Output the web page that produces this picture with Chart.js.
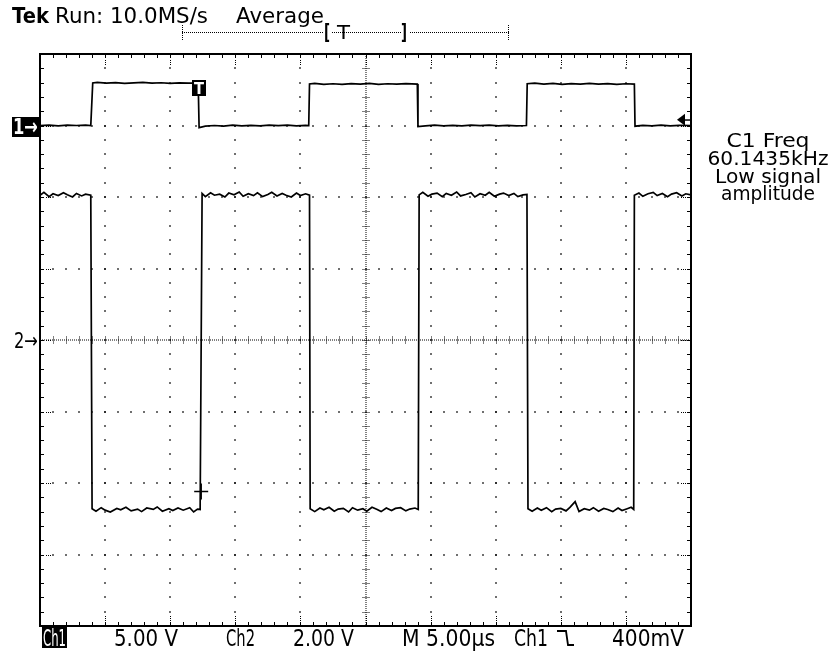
<!DOCTYPE html>
<html>
<head>
<meta charset="utf-8">
<script src="https://cdn.jsdelivr.net/npm/chart.js@4.4.1/dist/chart.umd.min.js"></script>
<style>
html,body{margin:0;padding:0;background:#fff;}
canvas{display:block;}
</style>
</head>
<body>
<canvas id="c" width="834" height="654"></canvas>
<script>
// ---- Data (time in µs, values in volts) ----
const ch1Time = [-25.0,-24.3,-23.6,-22.9,-22.2,-21.5,-21.1,-20.95,-20.6,-19.9,-19.2,-18.5,-17.8,-17.1,-16.4,-15.7,-15.0,-14.3,-13.6,-12.85,-12.78,-12.3,-11.6,-10.9,-10.2,-9.5,-8.8,-8.1,-7.4,-6.7,-6.0,-5.3,-4.6,-4.36,-4.3,-3.9,-3.2,-2.5,-1.8,-1.1,-0.4,0.3,1.0,1.7,2.4,3.1,3.98,4.03,4.6,5.3,6.0,6.7,7.4,8.1,8.8,9.5,10.2,10.9,11.6,12.36,12.42,13.0,13.7,14.4,15.1,15.8,16.5,17.2,17.9,18.6,19.3,20.0,20.65,20.7,21.3,22.0,22.7,23.4,24.1,25.0];
const ch1Volts = [0.00,0.03,-0.02,0.02,0.00,0.03,0.00,2.98,3.02,2.97,3.00,2.95,2.98,3.01,2.96,2.99,2.94,2.98,2.96,2.97,-0.15,-0.05,0.00,-0.04,0.02,-0.03,0.01,-0.02,0.02,-0.01,0.02,-0.02,0.01,0.00,2.90,2.95,2.88,2.92,2.87,2.93,2.89,2.94,2.88,2.92,2.89,2.93,2.90,-0.08,-0.02,0.02,-0.03,0.01,-0.02,0.02,-0.01,0.03,-0.02,0.01,-0.03,0.00,2.92,2.96,2.89,2.94,2.88,2.93,2.90,2.95,2.89,2.93,2.88,2.92,2.90,-0.05,0.01,-0.03,0.02,-0.02,0.01,0.00];

const ch2Time = [-25.0,-24.7,-24.3,-24.0,-23.6,-23.2,-22.9,-22.5,-22.2,-21.8,-21.5,-21.1,-21.0,-20.7,-20.3,-20.0,-19.6,-19.1,-18.8,-18.4,-18.0,-17.5,-17.2,-16.8,-16.3,-16.0,-15.6,-15.1,-14.8,-14.4,-14.0,-13.5,-13.2,-12.9,-12.7,-12.55,-12.3,-11.9,-11.6,-11.2,-10.8,-10.5,-10.1,-9.7,-9.4,-9.0,-8.6,-8.3,-7.9,-7.5,-7.2,-6.8,-6.4,-6.1,-5.7,-5.3,-5.0,-4.6,-4.3,-4.25,-3.9,-3.5,-3.2,-2.8,-2.4,-2.1,-1.7,-1.3,-1.0,-0.6,-0.2,0.1,0.5,0.9,1.2,1.6,2.0,2.3,2.7,3.1,3.4,3.8,4.05,4.12,4.4,4.8,5.1,5.5,5.9,6.2,6.6,7.0,7.3,7.7,8.1,8.4,8.8,9.2,9.5,9.9,10.3,10.6,11.0,11.4,11.7,12.1,12.4,12.48,12.8,13.2,13.5,13.9,14.3,14.6,15.0,15.4,15.7,16.1,16.4,16.8,17.2,17.5,17.9,18.3,18.6,19.0,19.4,19.7,20.1,20.4,20.6,20.65,21.0,21.3,21.7,22.1,22.4,22.8,23.2,23.5,23.9,24.3,24.6,25.0];
const ch2Volts = [4.05,4.13,4.01,4.09,4.04,4.12,4.06,4.00,4.10,4.03,4.08,4.05,-4.72,-4.79,-4.69,-4.76,-4.81,-4.71,-4.75,-4.68,-4.78,-4.73,-4.80,-4.70,-4.74,-4.67,-4.79,-4.72,-4.77,-4.70,-4.76,-4.69,-4.81,-4.73,-4.74,4.10,4.01,4.12,4.05,4.08,4.00,4.11,4.06,4.14,4.02,4.09,4.04,4.12,4.01,4.07,4.13,4.03,4.10,4.05,4.00,4.11,4.04,4.09,4.05,-4.72,-4.80,-4.70,-4.75,-4.68,-4.79,-4.73,-4.71,-4.81,-4.69,-4.76,-4.72,-4.79,-4.68,-4.74,-4.80,-4.70,-4.77,-4.71,-4.69,-4.78,-4.73,-4.70,-4.74,4.06,4.13,4.02,4.08,4.11,4.01,4.10,4.05,4.14,4.03,4.07,4.12,4.00,4.09,4.05,4.13,4.02,4.08,4.11,4.04,4.10,4.01,4.06,4.07,-4.72,-4.79,-4.70,-4.76,-4.69,-4.80,-4.73,-4.71,-4.78,-4.68,-4.52,-4.80,-4.72,-4.76,-4.69,-4.79,-4.71,-4.74,-4.80,-4.70,-4.77,-4.72,-4.68,-4.74,4.05,4.11,4.02,4.09,4.13,4.04,4.10,4.01,4.08,4.12,4.03,4.09,4.06];

const timeRange = [-25, 25];      // 10 div x 5.00 µs
const ch1Range = [-35, 5];        // 5.00 V/div, ground 3 div above centre
const ch2Range = [-8, 8];         // 2.00 V/div, ground at centre
const triggerTime = -12.78;
const triggerLevel = 0.4;         // 400 mV on Ch1
const ch2MarkerTime = -12.62;
const ch2MarkerVolts = -4.24;

const headerTexts = ["Tek", "Run: 10.0MS/s", "Average"];
const sideTexts = ["C1 Freq", "60.1435kHz", "Low signal", "amplitude"];
const footerTexts = ["Ch1", "5.00 V", "Ch2", "2.00 V", "M 5.00µs", "Ch1", "400mV"];

const toPts = (t, v) => t.map((x, i) => ({x: x, y: v[i]}));

function fitText(ctx, s, left, base, width, font, color) {
  ctx.save();
  ctx.font = font;
  ctx.fillStyle = color || '#000';
  ctx.textBaseline = 'alphabetic';
  ctx.textAlign = 'left';
  const m = ctx.measureText(s).width;
  ctx.translate(left, base);
  ctx.scale(width / m, 1);
  ctx.fillText(s, 0, 0);
  ctx.restore();
}

const scopePlugin = {
  id: 'scope',
  beforeDraw(chart) {
    const ctx = chart.ctx;
    ctx.save();
    ctx.fillStyle = '#fff';
    ctx.fillRect(0, 0, chart.width, chart.height);
    ctx.restore();
  },
  beforeDatasetsDraw(chart) {
    const ctx = chart.ctx;
    const xs = chart.scales.x, ys = chart.scales.y2;
    const a = chart.chartArea;
    const dot = (x, y) => ctx.fillRect(Math.round(x) - 0.75, Math.round(y) - 0.75, 1.5, 1.5);
    ctx.save();
    ctx.fillStyle = '#000';
    ctx.strokeStyle = '#000';
    ctx.lineWidth = 1;
    const px = [], py = [];
    for (let k = 0; k <= 50; k++) px.push(xs.getPixelForValue(timeRange[0] + k));
    for (let j = 0; j <= 40; j++) py.push(ys.getPixelForValue(ch2Range[0] + 0.4 * j));
    for (let k = 5; k < 50; k += 5) {
      if (k === 25) continue;
      for (let j = 1; j < 40; j++) dot(px[k], py[j]);
    }
    for (let j = 5; j < 40; j += 5) {
      if (j === 20) continue;
      for (let k = 1; k < 50; k++) dot(px[k], py[j]);
    }
    const cx = Math.round(px[25]), cy = Math.round(py[20]);
    for (let y = a.top; y <= a.bottom; y += 2) ctx.fillRect(cx - 0.5, Math.round(y), 1, 1);
    for (let x = a.left; x <= a.right; x += 2) ctx.fillRect(Math.round(x), cy - 0.5, 1, 1);
    for (let j = 1; j < 40; j++) for (let d = -3; d <= 3; d += 2) ctx.fillRect(cx + d - 0.5, Math.round(py[j]), 1, 1);
    for (let k = 1; k < 50; k++) for (let d = -3; d <= 3; d += 2) ctx.fillRect(Math.round(px[k]), cy + d - 0.5, 1, 1);
    for (let k = 1; k < 50; k++) {
      const x = Math.round(px[k]) + 0.5;
      ctx.beginPath();
      ctx.moveTo(x, a.top); ctx.lineTo(x, a.top + 4);
      ctx.moveTo(x, a.bottom); ctx.lineTo(x, a.bottom - 4);
      ctx.stroke();
      if (k % 5 === 0) for (let d = 6; d <= 10; d += 2) { ctx.fillRect(x - 0.5, a.top + d, 1, 1); ctx.fillRect(x - 0.5, a.bottom - d, 1, 1); }
    }
    for (let j = 1; j < 40; j++) {
      const y = Math.round(py[j]) + 0.5;
      ctx.beginPath();
      ctx.moveTo(a.left, y); ctx.lineTo(a.left + 4, y);
      ctx.moveTo(a.right, y); ctx.lineTo(a.right - 4, y);
      ctx.stroke();
      if (j % 5 === 0) for (let d = 6; d <= 10; d += 2) { ctx.fillRect(a.left + d, y - 0.5, 1, 1); ctx.fillRect(a.right - d, y - 0.5, 1, 1); }
    }
    ctx.restore();
  },
  afterDraw(chart) {
    const ctx = chart.ctx;
    const a = chart.chartArea;
    const xs = chart.scales.x, y1 = chart.scales.y1, y2 = chart.scales.y2;
    ctx.save();
    ctx.strokeStyle = '#000';
    ctx.lineWidth = 2;
    ctx.strokeRect(a.left, a.top, a.right - a.left, a.bottom - a.top);
    ctx.lineWidth = 1;

    // header
    fitText(ctx, headerTexts[0], 12, 23, 37, 'bold 21px "DejaVu Sans"');
    fitText(ctx, headerTexts[1], 55, 23, 153, '21px "DejaVu Sans"');
    fitText(ctx, headerTexts[2], 236, 23, 88, '21px "DejaVu Sans"');

    // record bar
    ctx.fillStyle = '#000';
    for (let x = 182; x <= 508; x += 2) ctx.fillRect(x, 32, 1, 1);
    for (let y = 25; y <= 40; y += 2) { ctx.fillRect(182, y, 1, 1); ctx.fillRect(508, y, 1, 1); }
    ctx.fillStyle = '#fff';
    ctx.fillRect(323, 24, 8, 19);
    ctx.fillRect(401, 24, 8, 19);
    fitText(ctx, '[', 324, 39, 6, 'bold 21px "DejaVu Sans"');
    fitText(ctx, 'T', 337, 39, 13, '20px "DejaVu Sans"');
    fitText(ctx, ']', 401, 39, 6, 'bold 21px "DejaVu Sans"');

    // side info
    const sideW = [83, 121, 106, 94];
    const sideB = [147, 165, 183, 200];
    sideTexts.forEach((s, i) => fitText(ctx, s, 768 - sideW[i] / 2, sideB[i], sideW[i], '19px "DejaVu Sans"'));

    // channel markers
    const g1 = Math.round(y1.getPixelForValue(0));
    ctx.fillStyle = '#000';
    ctx.fillRect(12, g1 - 9, 28, 20);
    fitText(ctx, '1\u2192', 13, g1 + 8, 25, 'bold 22px "DejaVu Sans"', '#fff');
    const g2 = Math.round(y2.getPixelForValue(0));
    fitText(ctx, '2\u2192', 14, g2 + 8, 24, '21px "DejaVu Sans"', '#000');

    // trigger level arrow
    const tl = y1.getPixelForValue(triggerLevel);
    ctx.fillStyle = '#000';
    ctx.beginPath();
    ctx.moveTo(a.right - 14, tl);
    ctx.lineTo(a.right - 6, tl - 6);
    ctx.lineTo(a.right - 6, tl + 6);
    ctx.closePath();
    ctx.fill();
    ctx.fillRect(a.right - 7, tl - 0.5, 7, 1.5);

    // trigger marker on ch1
    const tx = xs.getPixelForValue(triggerTime);
    const ty = y1.getPixelForValue(2.6);
    ctx.fillStyle = '#000';
    ctx.fillRect(Math.round(tx) - 7, Math.round(ty) - 8, 14, 16);
    fitText(ctx, 'T', Math.round(tx) - 5, Math.round(ty) + 6, 10, 'bold 16px "DejaVu Sans"', '#fff');

    // ch2 marker
    const mx = xs.getPixelForValue(ch2MarkerTime), my = y2.getPixelForValue(ch2MarkerVolts);
    ctx.strokeStyle = '#000';
    ctx.lineWidth = 1.5;
    ctx.beginPath();
    ctx.moveTo(mx - 7, my); ctx.lineTo(mx + 7, my);
    ctx.moveTo(mx, my - 8); ctx.lineTo(mx, my + 8);
    ctx.stroke();

    // footer
    const fb = 646;
    const ff = '23px "DejaVu Sans"';
    ctx.fillStyle = '#000';
    ctx.fillRect(42, 627, 25, 21);
    fitText(ctx, footerTexts[0], 43, fb, 23, ff, '#fff');
    fitText(ctx, footerTexts[1], 114, fb, 64, ff);
    fitText(ctx, footerTexts[2], 226, fb, 29, ff);
    fitText(ctx, footerTexts[3], 293, fb, 61, ff);
    fitText(ctx, footerTexts[4], 402, fb, 93, ff);
    fitText(ctx, footerTexts[5], 514, fb, 34, ff);
    fitText(ctx, footerTexts[6], 612, fb, 72, ff);
    // falling-edge slope symbol
    ctx.strokeStyle = '#000';
    ctx.lineWidth = 1.8;
    ctx.beginPath();
    ctx.moveTo(557, 631); ctx.lineTo(566, 631);
    ctx.lineTo(568, 645); ctx.lineTo(574, 645);
    ctx.stroke();
    ctx.restore();
  }
};

new Chart(document.getElementById('c'), {
  type: 'line',
  data: {
    datasets: [
      { label: 'Ch1', data: toPts(ch1Time, ch1Volts), yAxisID: 'y1', borderColor: '#000', borderWidth: 1.7, pointRadius: 0, tension: 0, fill: false },
      { label: 'Ch2', data: toPts(ch2Time, ch2Volts), yAxisID: 'y2', borderColor: '#000', borderWidth: 1.7, pointRadius: 0, tension: 0, fill: false }
    ]
  },
  options: {
    responsive: false,
    devicePixelRatio: 1,
    animation: false,
    layout: { padding: { left: 40, top: 54, right: 143, bottom: 28 } },
    plugins: { legend: { display: false }, tooltip: { enabled: false }, title: { display: false } },
    scales: {
      x: { type: 'linear', min: timeRange[0], max: timeRange[1], display: false },
      y1: { type: 'linear', min: ch1Range[0], max: ch1Range[1], display: false },
      y2: { type: 'linear', min: ch2Range[0], max: ch2Range[1], display: false }
    }
  },
  plugins: [scopePlugin]
});
</script>
</body>
</html>
